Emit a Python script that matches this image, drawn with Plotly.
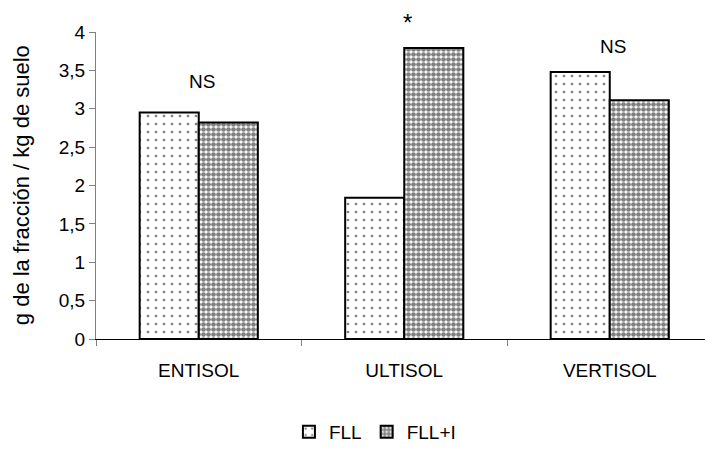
import plotly.graph_objects as go

# Soil orders and fraction mass (g of fraction per kg of soil)
soils = ["ENTISOL", "ULTISOL", "VERTISOL"]
fll = [2.95, 1.84, 3.48]
fll_i = [2.82, 3.79, 3.11]
signif = ["NS", "*", "NS"]
sig_level = [3.35, 4.12, 3.81]

Y_MAX = 4

fig = go.Figure()
fig.add_trace(go.Bar(
    x=soils, y=fll, name="FLL",
    marker=dict(color="white", line=dict(color="black", width=2),
                pattern=dict(shape=".", size=8, solidity=0.09,
                             fgcolor="black", bgcolor="white")),
))
fig.add_trace(go.Bar(
    x=soils, y=fll_i, name="FLL+I",
    marker=dict(color="white", line=dict(color="black", width=2),
                pattern=dict(shape=".", size=5, solidity=0.7,
                             fgcolor="black", bgcolor="white")),
))

# significance marks above each pair of bars
for s, lab, lvl in zip(soils, signif, sig_level):
    fig.add_annotation(x=s, y=lvl / Y_MAX, xref="x", yref="paper",
                       yanchor="middle", xanchor="center",
                       text=lab, showarrow=False, xshift=3,
                       font=dict(size=24 if lab == "*" else 19, color="black"))

fig.add_annotation(text="g de la fracción / kg de suelo", textangle=-90,
                   xref="paper", yref="paper", x=-0.122, y=0.5,
                   xanchor="center", yanchor="middle", showarrow=False,
                   font=dict(size=22, color="black"))

fig.update_layout(
    width=705, height=451,
    margin=dict(l=96, r=0, t=32, b=108),
    paper_bgcolor="white", plot_bgcolor="white",
    separators=", ",
    barmode="group", bargap=0.425, bargroupgap=0,
    font=dict(family="Liberation Sans, Arial, sans-serif", color="black"),
    showlegend=True,
    legend=dict(orientation="h", x=0.458, xanchor="center",
                y=-0.305, yanchor="middle",
                font=dict(size=19), itemwidth=30, traceorder="normal"),
    xaxis=dict(range=[-0.5, 2.4635], showline=True, linecolor="black",
               linewidth=1, ticks="outside", tickson="boundaries",
               ticklen=6, tickcolor="#808080", showgrid=False,
               tickfont=dict(size=19), ticklabelstandoff=14),
    yaxis=dict(range=[0, Y_MAX], dtick=0.5, tick0=0, showline=True,
               linecolor="#808080", linewidth=1, ticks="outside",
               ticklen=6, tickcolor="#808080", showgrid=False,
               zeroline=False, tickfont=dict(size=19),
               tickformat=".1~f"),
)

fig.write_html("out.html")
